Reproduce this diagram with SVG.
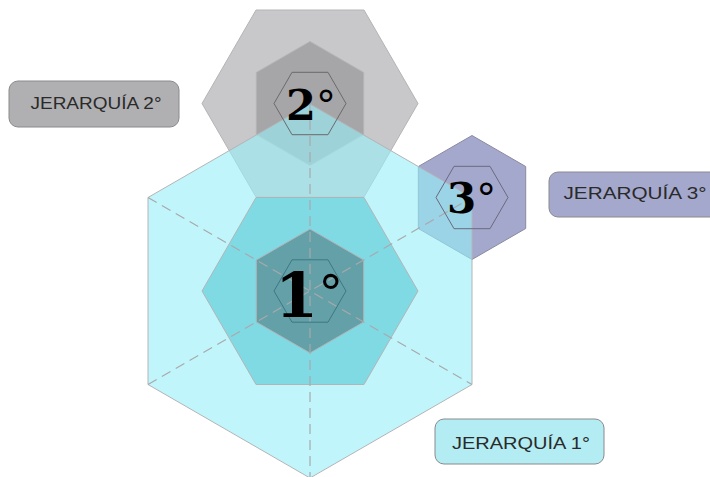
<svg xmlns="http://www.w3.org/2000/svg" width="710" height="477" viewBox="0 0 710 477">
<style>
.hx{stroke:#b4b4b6;stroke-width:1}
.out{fill:none;stroke-width:1}
.dash{fill:none;stroke:#a9a9ab;stroke-width:1.2;stroke-dasharray:10 6}
.num{font-family:"DejaVu Serif","Liberation Serif",serif;font-weight:bold;fill:#000}
.deg{font-family:"DejaVu Sans","Liberation Sans",sans-serif;font-weight:normal}
.lbl rect{stroke:#8a8a8c;stroke-width:1}
.lbl text{font-family:"Liberation Sans","DejaVu Sans",sans-serif;font-size:17px;fill:#2a2a2a;text-anchor:middle}
</style>
<rect width="710" height="477" fill="#ffffff"/>
<g id="hex-2">
<polygon class="hx" fill="#c8c8ca" points="418,103.5 364,10 256,10 202,103.5 256,197 364,197"/>
<polygon class="hx" fill="#a6a6a8" points="310,41.5 363.7,72.5 363.7,134.5 310,165.5 256.3,134.5 256.3,72.5"/>
</g>
<g id="hex-3">
<polygon stroke="#8a8aa0" stroke-width="1" fill="#a4a8cc" points="472,135.5 525.7,166.5 525.7,228.5 472,259.5 418.3,228.5 418.3,166.5"/>
</g>
<g id="hex-1">
<polygon class="hx" fill="#96f0f8" fill-opacity="0.6" points="310,104 472,197.5 472,384.5 310,478 148,384.5 148,197.5"/>
<polygon class="hx" fill="#80dae4" points="418,291 364,197.5 256,197.5 202,291 256,384.5 364,384.5"/>
<polygon class="hx" fill="#63a0a8" points="310,229 363.7,260 363.7,322 310,353 256.3,322 256.3,260"/>
</g>
<g id="connectors">
<line class="dash" x1="310" y1="104" x2="310" y2="478"/>
<line class="dash" x1="148" y1="197.5" x2="472" y2="384.5"/>
<line class="dash" x1="148" y1="384.5" x2="472" y2="197.5"/>
</g>
<g id="core-1">
<polygon class="out" stroke="#3e7880" points="346,291 328,259.8 292,259.8 274,291 292,322.2 328,322.2"/>
<text class="num" x="275" y="317" font-size="62">1<tspan class="deg" font-size="50" dy="-6">°</tspan></text>
</g>
<g id="core-2">
<polygon class="out" stroke="#6a6a6c" points="346,103.5 328,72.3 292,72.3 274,103.5 292,134.7 328,134.7"/>
<text class="num" x="286" y="120" font-size="43">2<tspan class="deg" font-size="40">°</tspan></text>
</g>
<g id="core-3">
<polygon class="out" stroke="#6a6a7e" points="508,197.5 490,166.3 454,166.3 436,197.5 454,228.7 490,228.7"/>
<text class="num" x="447" y="213" font-size="42">3<tspan class="deg" font-size="40">°</tspan></text>
</g>
<g id="label-2" class="lbl">
<rect x="9" y="81" width="170" height="46" rx="9" fill="#b0b0b2"/>
<text x="96" y="109" textLength="131" lengthAdjust="spacingAndGlyphs">JERARQUÍA 2°</text>
</g>
<g id="label-3" class="lbl">
<rect x="549" y="172" width="180" height="45" rx="9" fill="#a4a8cc"/>
<text x="635" y="199" textLength="143" lengthAdjust="spacingAndGlyphs">JERARQUÍA 3°</text>
</g>
<g id="label-1" class="lbl">
<rect x="435" y="419" width="169" height="45" rx="9" fill="#b3ecf2"/>
<text x="521" y="449" textLength="138" lengthAdjust="spacingAndGlyphs">JERARQUÍA 1°</text>
</g>
</svg>
